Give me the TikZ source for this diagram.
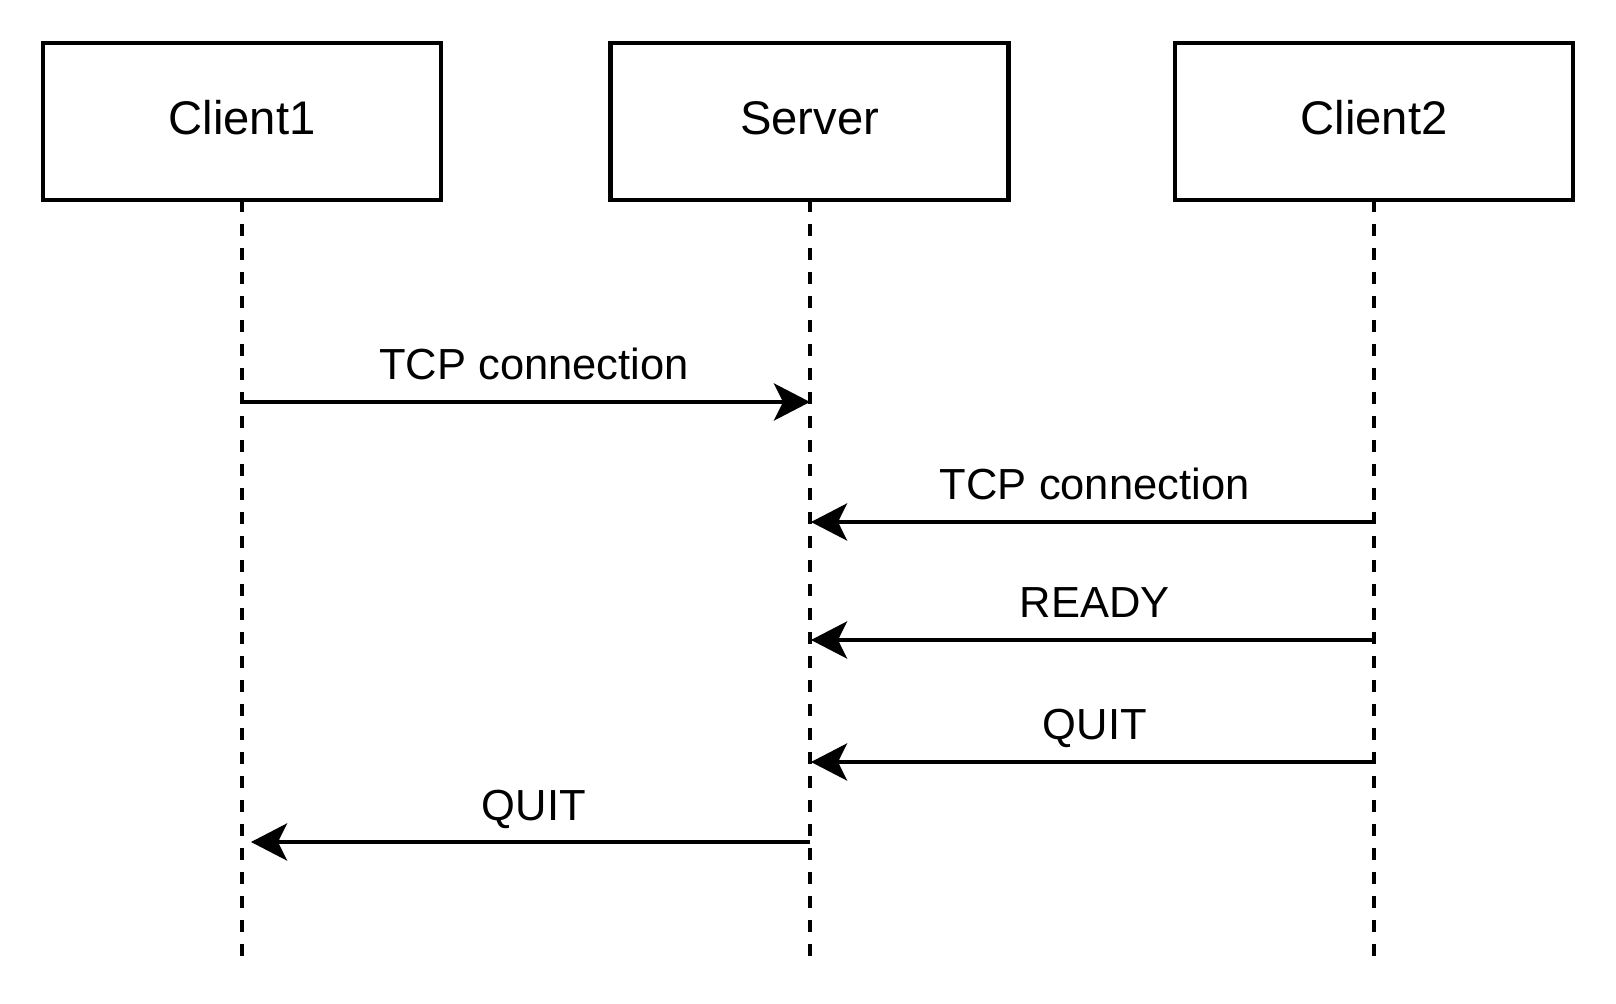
\documentclass[tikz,border=0pt]{standalone}
\usepackage{fontspec}
\setmainfont{Liberation Sans}
\usetikzlibrary{arrows.meta}
\begin{document}
\begin{tikzpicture}[x=0.5pt,y=-0.5pt,
  actor/.style={draw=black, line width=2.2pt, fill=white, minimum width=199pt, minimum height=78.5pt, inner sep=0pt,
    font=\fontsize{23.6}{28}\selectfont},
  actortext/.style={font=\fontsize{23.6}{28}\selectfont, inner sep=0pt},
  lifeline/.style={line width=2pt, dash pattern=on 6pt off 6pt},
  msg/.style={line width=2.2pt, -{Stealth[length=18pt,width=18.5pt,inset=4.5pt]}},
  lbl/.style={font=\fontsize{21.75}{26}\selectfont, anchor=base, yshift=11pt, inner sep=0pt}
]
\useasboundingbox[fill=white] (0,0) rectangle (1616,1004);

% lifeline ends
\coordinate (c1end) at (242,958);
\coordinate (svend) at (810,958);
\coordinate (c2end) at (1374,958);

% lifelines (drawn first, boxes on top)
\coordinate (c1top) at (242,200);
\coordinate (svtop) at (810,200);
\coordinate (c2top) at (1374,200);
\draw[lifeline] (c1top) -- (c1end);
\draw[lifeline] (svtop) -- (svend);
\draw[lifeline] (c2top) -- (c2end);

% actors
\node[actor] (c1) at (242,121.5) {};
\node[actor] (sv) at (809.5,121.5) {};
\node[actor] (c2) at (1374,121.5) {};
\node[actortext] (c1t) at (242,118) {Client1};
\node[actortext] (svt) at (809.5,118) {Server};
\node[actortext] (c2t) at (1374,118) {Client2};

% message anchor points
\coordinate (c1m1) at (241,402);  \coordinate (svm1) at (810,402);
\coordinate (c2m2) at (1375,522); \coordinate (svm2) at (811,522);
\coordinate (c2m3) at (1375,640); \coordinate (svm3) at (811,640);
\coordinate (c2m4) at (1375,762); \coordinate (svm4) at (811,762);
\coordinate (svm5) at (810,842);  \coordinate (c1m5) at (251,842);

% messages
\draw[msg] (c1m1) -- node[lbl, pos=0.515] {TCP connection} (svm1);
\draw[msg] (c2m2) -- node[lbl, pos=0.497] {TCP connection} (svm2);
\draw[msg] (c2m3) -- node[lbl, pos=0.497] {READY} (svm3);
\draw[msg] (c2m4) -- node[lbl, pos=0.497] {QUIT} (svm4);
\draw[msg] (svm5) -- node[lbl, pos=0.494] {QUIT} (c1m5);
\end{tikzpicture}
\end{document}
